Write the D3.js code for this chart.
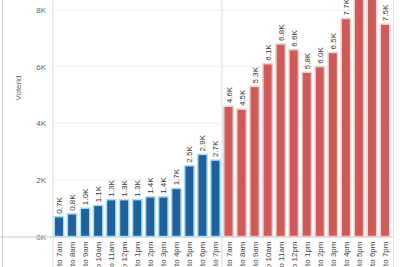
<!DOCTYPE html>
<html>
<head>
<meta charset="utf-8">
<script src="https://cdn.jsdelivr.net/npm/d3@7"></script>
<style>
  body { margin: 0; background: #fff; }
  text { font-family: "Liberation Sans", Arial, sans-serif; }
</style>
</head>
<body>
<div id="chart"></div>
<script>
// hours shown in each pane
const hours = ['6 to 7am', '7 to 8am', '8 to 9am', '9 to 10am', '10 to 11am', '11 to 12pm',
    '12 to 1pm', '1 to 2pm', '2 to 3pm', '3 to 4pm', '4 to 5pm', '5 to 6pm', '6 to 7pm'];
// Voterid counts in thousands
const blueValues = [0.7, 0.8, 1.0, 1.1, 1.3, 1.3, 1.3, 1.4, 1.4, 1.7, 2.5, 2.9, 2.7];
const redValues = [4.6, 4.5, 5.3, 6.1, 6.8, 6.6, 5.8, 6.0, 6.5, 7.7, 8.8, 9.0, 7.5];
const yTicks = [0, 2, 4, 6, 8];

const barData = [];
hours.forEach((h, i) => barData.push({ key: 'b' + i, hour: h, value: blueValues[i], group: 'blue' }));
hours.forEach((h, i) => barData.push({ key: 'r' + i, hour: h, value: redValues[i], group: 'red' }));

const svg_width = 400;
const svg_height = 267;
const plot = { left: 53, right: 391, top: 0, zero: 236.5 };

const svg = d3.select('#chart').append('svg')
    .attr('width', svg_width).attr('height', svg_height);

// scales
const xScale = d3.scaleBand().domain(barData.map(d => d.key))
    .range([plot.left, plot.right]).paddingInner(0.28).paddingOuter(0.1);
const yScale = d3.scaleLinear().domain([0, 8]).range([plot.zero, 10]);

// frame lines
svg.append('line').attr('x1', 2.5).attr('x2', 2.5).attr('y1', 0).attr('y2', svg_height)
    .attr('stroke', '#cfcfcf');
svg.append('line').attr('x1', plot.left).attr('x2', plot.left).attr('y1', 0).attr('y2', svg_height)
    .attr('stroke', '#dcdcdc');
svg.append('line').attr('x1', 393.5).attr('x2', 393.5).attr('y1', 0).attr('y2', svg_height)
    .attr('stroke', '#e4e4e4');
const midX = (xScale('b12') + xScale.bandwidth() + xScale('r0')) / 2;
svg.append('line').attr('x1', midX).attr('x2', midX).attr('y1', 0).attr('y2', svg_height)
    .attr('stroke', '#dcdcdc');

// gridlines
svg.append('g').selectAll('line')
    .data(yTicks.filter(d => d > 0))
    .enter().append('line')
    .attr('x1', plot.left).attr('x2', plot.right)
    .attr('y1', d => yScale(d)).attr('y2', d => yScale(d))
    .attr('stroke', '#f0f0f0');

// y axis
const yAxis = d3.axisLeft(yScale).tickValues(yTicks).tickFormat(d => d + 'K').tickSize(0);
const yAxisDraw = svg.append('g').attr('transform', `translate(${plot.left - 4}, 0)`).call(yAxis);
yAxisDraw.select('.domain').remove();
yAxisDraw.selectAll('text').attr('fill', '#666').style('font-size', '8px').attr('dx', '0');

svg.append('text')
    .attr('transform', `translate(21, 88) rotate(-90)`)
    .attr('text-anchor', 'middle')
    .attr('fill', '#666').style('font-size', '8px')
    .text('Voterid');

// bars
svg.append('g').selectAll('.bar')
    .data(barData)
    .enter().append('rect')
    .attr('class', 'bar')
    .attr('x', d => xScale(d.key))
    .attr('y', d => yScale(d.value))
    .attr('width', xScale.bandwidth())
    .attr('height', d => yScale(0) - yScale(d.value))
    .attr('fill', d => d.group === 'blue' ? '#21609a' : '#cc5c5a')
    .attr('stroke', d => d.group === 'blue' ? '#a6def4' : '#f6cccc')
    .attr('stroke-width', 1.5);

// baseline
svg.append('line').attr('x1', 0).attr('x2', plot.right + 2)
    .attr('y1', plot.zero + 0.5).attr('y2', plot.zero + 0.5)
    .attr('stroke', '#c8c8c8');

// value labels
svg.append('g').selectAll('text')
    .data(barData)
    .enter().append('text')
    .attr('transform', d => `translate(${xScale(d.key) + xScale.bandwidth() / 2 + 3}, ${yScale(d.value) - 3}) rotate(-90)`)
    .attr('text-anchor', 'start')
    .attr('fill', '#333').style('font-size', '8px')
    .text(d => d.value.toFixed(1) + 'K');

// x labels
svg.append('g').selectAll('text')
    .data(barData)
    .enter().append('text')
    .attr('transform', d => `translate(${xScale(d.key) + xScale.bandwidth() / 2 + 3}, ${plot.zero + 5}) rotate(-90)`)
    .attr('text-anchor', 'end')
    .attr('fill', '#444').style('font-size', '8px')
    .text(d => d.hour);
</script>
</body>
</html>
